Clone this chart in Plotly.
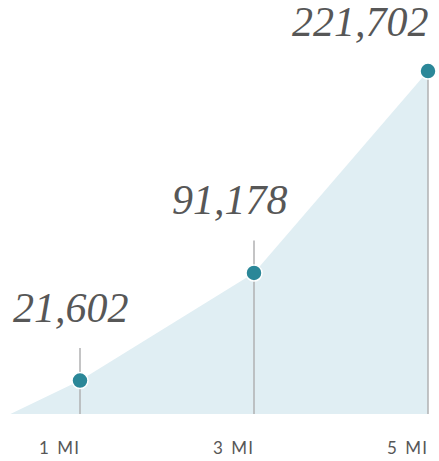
import plotly.graph_objects as go

# Data
miles = [1, 3, 5]
tick_labels = ["1 MI", "3 MI", "5 MI"]
population = [21602, 91178, 221702]
area_start_x = 0.2
area_start_y = 0

# Styles
fill_color = "#e0eef3"
dot_color = "#2b8798"
rule_color = "#b0b0b2"
text_color = "#575757"

fig = go.Figure()

# Area
fig.add_trace(go.Scatter(
    x=[area_start_x] + miles,
    y=[area_start_y] + population,
    mode="lines",
    line=dict(width=0, shape="linear"),
    fill="tozeroy",
    fillcolor=fill_color,
    hoverinfo="skip",
    showlegend=False,
))

# Vertical rules (extend above the first two points), under the dots
ext = [21000, 21000, 0]
rx, ry = [], []
for m, p, e in zip(miles, population, ext):
    rx += [m, m, None]
    ry += [0, p + e, None]
fig.add_trace(go.Scatter(
    x=rx, y=ry, mode="lines",
    line=dict(color=rule_color, width=1.5),
    hoverinfo="skip", showlegend=False,
))

# Dots
fig.add_trace(go.Scatter(
    x=miles, y=population, mode="markers",
    marker=dict(size=16, color=dot_color, line=dict(color="white", width=1.5)),
    showlegend=False, hoverinfo="skip",
))

# Value labels
xshifts = [-9, -24, -68]
yshifts = [48, 48, 24]
for m, p, xs, ys in zip(miles, population, xshifts, yshifts):
    fig.add_annotation(
        x=m, y=p, xref="x", yref="y",
        text=f"<i>{p:,}</i>", showarrow=False,
        xanchor="center", yanchor="bottom",
        xshift=xs, yshift=ys,
        font=dict(family="Liberation Serif", size=42, color=text_color),
    )

# Tick labels
for m, t in zip(miles, tick_labels):
    num, unit = t.split(" ")
    fig.add_annotation(
        x=m, y=0, xref="x", yref="y",
        text=num + "\u2002" + "\u200a".join(unit), showarrow=False,
        xanchor="right", yanchor="top", yshift=-21, xshift=1,
        font=dict(family="Lato", size=17, color=text_color),
    )

fig.update_layout(
    width=439, height=461,
    margin=dict(l=0, r=0, t=0, b=0),
    paper_bgcolor="white", plot_bgcolor="white",
    xaxis=dict(range=[1 - 80 / 87, 1 + 359 / 87], visible=False, fixedrange=True),
    yaxis=dict(range=[-47 * 646.4, 414 * 646.4], visible=False, fixedrange=True),
)

fig.write_html("out.html", config={"displayModeBar": False},
               post_script="document.body.style.margin='0';document.body.style.overflow='hidden';")
